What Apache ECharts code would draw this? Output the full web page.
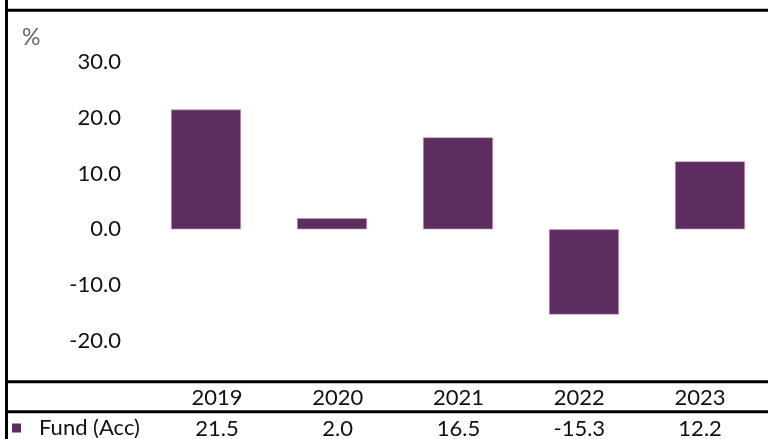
<!DOCTYPE html>
<html>
<head>
<meta charset="utf-8">
<script src="https://cdn.jsdelivr.net/npm/echarts@6/dist/echarts.min.js"></script>
<style>
html,body{margin:0;padding:0;background:#fff;}
#chart{width:768px;height:439px;}
</style>
</head>
<body>
<div id="chart"></div>
<script>
var categories = ['2019', '2020', '2021', '2022', '2023'];
var seriesName = 'Fund (Acc)';
var fundValues = [21.5, 2.0, 16.5, -15.3, 12.2];
var yTicks = [-30, 30, 10];

var FONT = 'Lato';
var FS = 22;
var BAR = '#5e2d60';
var TXT = '#111111';

var chart = echarts.init(document.getElementById('chart'));
chart.setOption({
  animation: false,
  backgroundColor: '#ffffff',
  title: {
    text: '%', left: 22, top: 26, padding: 0,
    textStyle: { fontFamily: FONT, fontSize: 23, fontWeight: 'normal', color: '#666666' }
  },
  legend: {
    data: [seriesName],
    left: 12, top: 417, padding: 0,
    icon: 'rect', itemWidth: 9, itemHeight: 9,
    itemStyle: { color: BAR, borderWidth: 0 },
    textStyle: { fontFamily: FONT, fontSize: FS, color: TXT, padding: [0, 0, 0, 13] }
  },
  grid: [
    { left: 143, top: 62.2, width: 630, height: 334.2, containLabel: false, outerBoundsMode: 'none' },
    { left: 156.5, top: 382, width: 604, height: 1, containLabel: false, outerBoundsMode: 'none' }
  ],
  xAxis: [
    {
      type: 'category', gridIndex: 0, data: categories,
      axisLine: { show: false }, axisTick: { show: false }, axisLabel: { show: false }
    },
    {
      type: 'category', gridIndex: 1, data: categories,
      axisLine: { show: false }, axisTick: { show: false },
      axisLabel: {
        margin: 1,
        formatter: function (v, i) {
          return '{a|' + v + '}\n{b|' + fundValues[i].toFixed(1) + '}';
        },
        rich: {
          a: { fontFamily: FONT, fontSize: FS, color: TXT, lineHeight: 28 },
          b: { fontFamily: FONT, fontSize: FS, color: TXT, lineHeight: 34 }
        }
      }
    }
  ],
  yAxis: [
    {
      type: 'value', gridIndex: 0, min: yTicks[0], max: yTicks[1], interval: yTicks[2],
      axisLine: { show: false }, axisTick: { show: false }, splitLine: { show: false },
      axisLabel: {
        margin: 22, fontFamily: FONT, fontSize: FS, color: TXT,
        formatter: function (v) { return v === yTicks[0] ? '' : v.toFixed(1); }
      }
    },
    { type: 'value', gridIndex: 1, show: false }
  ],
  graphic: [
    { type: 'line', shape: { x1: 6.5, y1: 0, x2: 6.5, y2: 439 }, style: { stroke: '#000', lineWidth: 3 } },
    { type: 'line', shape: { x1: 5, y1: 10.3, x2: 768, y2: 10.3 }, style: { stroke: '#000', lineWidth: 3 } },
    { type: 'line', shape: { x1: 5, y1: 381.7, x2: 768, y2: 381.7 }, style: { stroke: '#000', lineWidth: 3 } },
    { type: 'line', shape: { x1: 5, y1: 411.7, x2: 768, y2: 411.7 }, style: { stroke: '#000', lineWidth: 3 } }
  ],
  series: [
    {
      name: seriesName, type: 'bar', xAxisIndex: 0, yAxisIndex: 0,
      data: fundValues, barWidth: 70,
      itemStyle: { color: BAR, borderColor: '#c7a3c8', borderWidth: 0.6 }
    }
  ]
});
</script>
</body>
</html>
